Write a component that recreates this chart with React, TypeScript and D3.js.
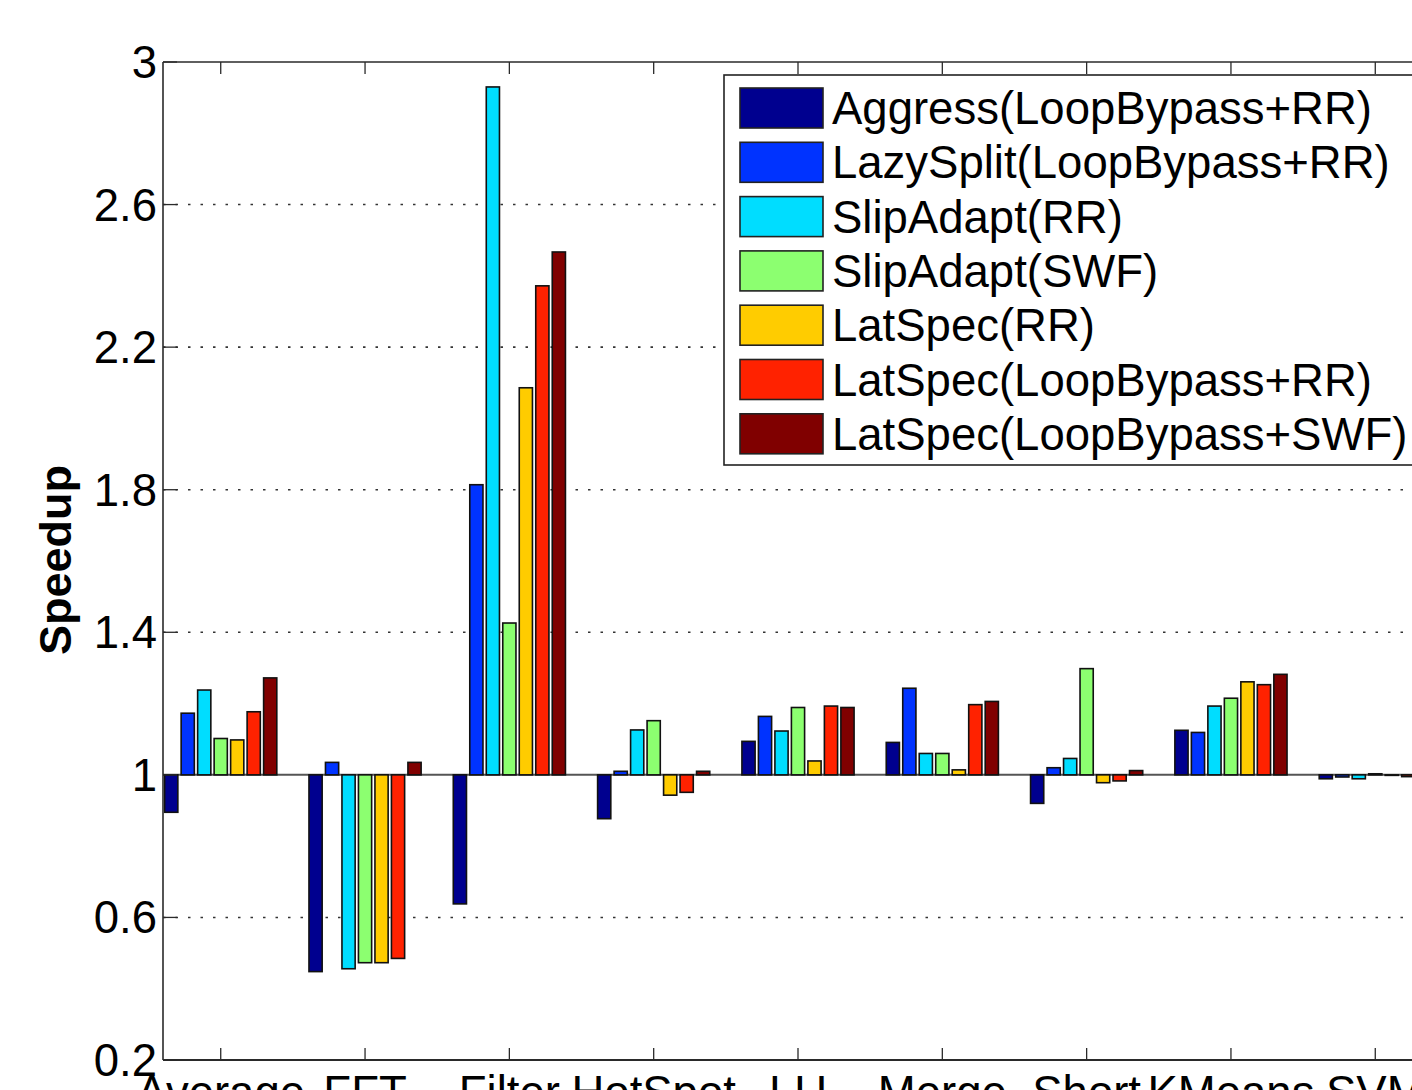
import React from "react";
import * as d3 from "d3";

// benchmark names along the x axis
const categories = ["Average", "FFT", "Filter", "HotSpot", "LU", "Merge", "Short", "KMeans", "SVM"];

const seriesNames = [
  "Aggress(LoopBypass+RR)",
  "LazySplit(LoopBypass+RR)",
  "SlipAdapt(RR)",
  "SlipAdapt(SWF)",
  "LatSpec(RR)",
  "LatSpec(LoopBypass+RR)",
  "LatSpec(LoopBypass+SWF)",
];

// jet-like colours, one per series
const seriesColors = ["#00008f", "#0033ff", "#00ddff", "#8cff70", "#ffcc00", "#ff2200", "#800000"];

// speedup values, one array per series (order follows categories)
const aggress = [0.895, 0.448, 0.638, 0.877, 1.094, 1.091, 0.92, 1.125, 0.989];
const lazySplit = [1.173, 1.035, 1.814, 1.01, 1.164, 1.243, 1.02, 1.119, 0.994];
const slipRR = [1.238, 0.456, 2.93, 1.126, 1.123, 1.06, 1.046, 1.193, 0.989];
const slipSWF = [1.102, 0.473, 1.426, 1.152, 1.189, 1.06, 1.298, 1.215, 1.003];
const latRR = [1.098, 0.473, 2.086, 0.943, 1.039, 1.014, 0.978, 1.261, 1.0];
const latLBRR = [1.177, 0.485, 2.372, 0.951, 1.193, 1.197, 0.983, 1.253, 0.995];
const latLBSWF = [1.272, 1.035, 2.467, 1.01, 1.189, 1.206, 1.012, 1.282, 1.0];

const series = [aggress, lazySplit, slipRR, slipSWF, latRR, latLBRR, latLBSWF];

const yTicks = [0.2, 0.6, 1, 1.4, 1.8, 2.2, 2.6, 3];
const gridTicks = [0.6, 1.4, 1.8, 2.2, 2.6];

const W = 1412;
const H = 1090;
const left = 163;
const top = 62;
const bottom = 1060;
const font = "'Liberation Sans', Arial, Helvetica, sans-serif";

const App = () => {
  // x in category units, matlab-style xlim
  const x = d3.scaleLinear().domain([0.6, 9.4]).range([left, 1433]);
  const y = d3.scaleLinear().domain([0.2, 3]).range([bottom, top]);

  const groupW = (x(2) - x(1)) * 0.8;
  const pitch = groupW / series.length;
  const barW = pitch * 0.8;
  const base = y(1);
  const right = x(9.4);

  return (
    <svg
      width={W}
      height={H}
      style={{ position: "absolute", left: 0, top: 0, background: "#fff" }}
      fontFamily={font}
    >
      <defs>
        <clipPath id="plot">
          <rect x={left} y={top} width={right - left} height={bottom - top} />
        </clipPath>
      </defs>
      <rect width={W} height={H} fill="#fff" />

      {/* dotted grid */}
      {gridTicks.map((t) => (
        <line key={t} x1={left} x2={right} y1={y(t)} y2={y(t)}
          stroke="#333" strokeWidth={1.6} strokeDasharray="2.5,10" />
      ))}

      {/* baseline at speedup 1 */}
      <line x1={left} x2={right} y1={base} y2={base} stroke="#555" strokeWidth={2} />

      <g clipPath="url(#plot)">
        {series.map((vals, j) =>
          vals.map((v, i) => {
            const cx = x(i + 1) - groupW / 2 + pitch * (j + 0.5);
            const yv = y(v);
            return (
              <rect key={j + "-" + i}
                x={cx - barW / 2} y={Math.min(yv, base)}
                width={barW} height={Math.max(Math.abs(yv - base), 0.5)}
                fill={seriesColors[j]} stroke="#111" strokeWidth={1.6} />
            );
          })
        )}
      </g>

      {/* axes box */}
      <line x1={left} x2={right} y1={top} y2={top} stroke="#2a2a2a" strokeWidth={1.6} />
      <line x1={left} x2={right} y1={bottom} y2={bottom} stroke="#2a2a2a" strokeWidth={2} />
      <line x1={left} x2={left} y1={top} y2={bottom} stroke="#2a2a2a" strokeWidth={1.6} />

      {/* x ticks top and bottom */}
      {categories.map((c, i) => (
        <g key={c}>
          <line x1={x(i + 1)} x2={x(i + 1)} y1={bottom} y2={bottom - 12} stroke="#2a2a2a" strokeWidth={1.3} />
          <line x1={x(i + 1)} x2={x(i + 1)} y1={top} y2={top + 12} stroke="#2a2a2a" strokeWidth={1.3} />
          <text x={x(i + 1)} y={1108} fontSize={45.5} textAnchor="middle" fill="#000">{c}</text>
        </g>
      ))}

      {/* y ticks */}
      {yTicks.map((t) => (
        <g key={t}>
          <line x1={left} x2={left + 14} y1={y(t)} y2={y(t)} stroke="#2a2a2a" strokeWidth={1.3} />
          <text x={157} y={y(t) + 16} fontSize={45.5} textAnchor="end" fill="#000">{t}</text>
        </g>
      ))}

      <text transform={`translate(71,${560}) rotate(-90)`} fontSize={45} fontWeight="bold"
        textAnchor="middle" fill="#000">Speedup</text>

      {/* legend */}
      <g>
        <rect x={724} y={75} width={720} height={390} fill="#fff" stroke="#222" strokeWidth={1.6} />
        {seriesNames.map((n, j) => {
          const ry = 88 + j * 54.3;
          return (
            <g key={n}>
              <rect x={740} y={ry} width={83} height={40} fill={seriesColors[j]} stroke="#222" strokeWidth={1.6} />
              <text x={832} y={ry + 36} fontSize={45.5} fill="#000">{n}</text>
            </g>
          );
        })}
      </g>
    </svg>
  );
};

export default App;
